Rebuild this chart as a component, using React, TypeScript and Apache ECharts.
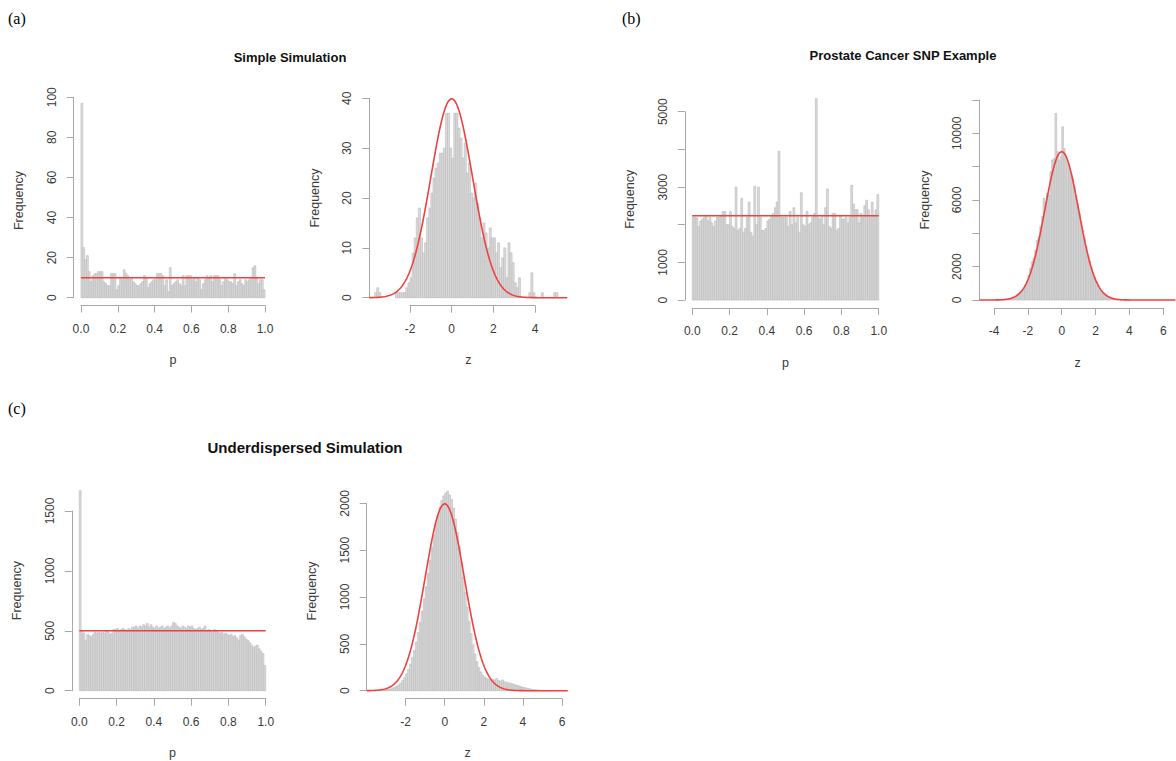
import React, { useEffect, useRef } from "react";
import * as echarts from "echarts";

// ---------- data ----------
// p-value histograms: 100 bins of width 0.01 on [0, 1]
const simpleP = [
  97, 25, 19, 21, 13, 8, 11, 12, 12, 13,
  13, 13, 8, 7, 6, 6, 12, 12, 12, 4,
  6, 10, 9, 14, 12, 11, 9, 10, 8, 7,
  6, 6, 7, 8, 11, 10, 5, 7, 8, 9,
  9, 12, 12, 12, 11, 6, 9, 3, 15, 6,
  7, 8, 9, 7, 6, 11, 6, 11, 11, 11,
  9, 10, 8, 10, 9, 4, 7, 9, 11, 10,
  11, 8, 11, 11, 11, 9, 6, 8, 10, 9,
  8, 8, 7, 12, 6, 8, 9, 7, 6, 9,
  8, 9, 10, 15, 16, 10, 7, 9, 9, 4,
];
const prostateP = [
  2210, 2200, 2180, 1950, 2100, 2150, 2200, 2250, 2100, 2200,
  2050, 1950, 2100, 2200, 2200, 2250, 2350, 2350, 2000, 2000,
  2350, 1950, 1900, 3000, 1850, 1900, 2700, 1800, 1900, 2200,
  2600, 1800, 1700, 3020, 2000, 3000, 2200, 1850, 1850, 1900,
  2100, 2150, 2250, 2300, 2450, 2600, 3950, 2200, 2200, 2200,
  2200, 1950, 2350, 2000, 2450, 2050, 2200, 1800, 2850, 2000,
  1950, 2350, 2000, 2050, 2200, 2300, 5350, 2200, 2150, 2250,
  2000, 2450, 2950, 1950, 1900, 2300, 2300, 1850, 1900, 2250,
  2150, 2150, 2200, 2050, 2200, 3050, 2550, 2400, 2400, 2050,
  2300, 2200, 2500, 2650, 2400, 2200, 2600, 2250, 2400, 2800,
];
const underP = [
  1670, 500, 480, 420, 470, 460, 450, 470, 490, 480,
  490, 480, 490, 480, 500, 490, 470, 480, 510, 510,
  520, 500, 510, 520, 510, 500, 520, 510, 530, 530,
  540, 520, 540, 530, 550, 540, 560, 530, 550, 530,
  520, 540, 520, 530, 540, 520, 530, 540, 520, 540,
  570, 560, 540, 530, 520, 540, 530, 520, 540, 530,
  540, 520, 510, 520, 530, 510, 520, 540, 500, 510,
  500, 490, 510, 500, 490, 480, 490, 470, 480, 470,
  460, 470, 450, 460, 440, 420, 460, 470, 450, 430,
  420, 400, 380, 360, 370, 380, 350, 330, 310, 210,
];
// expected uniform count per p bin (red line)
const pRefLevels = [10, 2240, 500];

// z histograms: bins of width 0.1, first bin starts at the given break
const simpleZStart = -3.7;
const simpleZ = [
  1, 2, 1, 0, 0, 0, 0, 0, 0, 0,
  1, 1, 1, 1, 1, 2, 3, 4, 9, 12,
  16, 18, 12, 9, 11, 16, 18, 21, 24, 26,
  27, 29, 29, 30, 37, 37, 30, 28, 37, 37,
  34, 32, 28, 31, 25, 27, 21, 20, 23, 19,
  16, 12, 15, 13, 10, 14, 12, 12, 9, 11,
  6, 8, 10, 4, 11, 9, 7, 3, 2, 4,
  0, 0, 0, 0, 1, 5, 1, 0, 0, 0,
  1, 0, 0, 0, 0, 0, 1, 1,
];
const prostateZStart = -4.0;
const prostateZ = [
  5, 8, 10, 15, 20, 28, 40, 55, 75, 100,
  135, 180, 235, 300, 380, 480, 600, 740, 900, 1100,
  1500, 1900, 2300, 2500, 3000, 3600, 3800, 4400, 5000, 6100,
  5900, 6400, 6300, 7700, 8400, 8500, 11200, 8900, 8400, 8600,
  10400, 9100, 8600, 8200, 7900, 7600, 7300, 6800, 6300, 5800,
  5200, 4700, 4200, 3700, 3200, 2750, 2350, 2000, 1650, 1350,
  1100, 900, 720, 570, 440, 340, 260, 200, 150, 110,
  80, 60, 45, 32, 22, 15, 10, 7, 5, 3, 2,
];
const underZStart = -3.5;
const underZ = [
  2, 3, 4, 6, 8, 11, 15, 20, 27, 36,
  48, 63, 82, 108, 140, 180, 228, 285, 352, 430,
  520, 620, 730, 850, 980, 1110, 1250, 1390, 1530, 1660,
  1780, 1870, 1960, 2030, 2080, 2110, 2130, 2090, 2040, 1950,
  1830, 1690, 1540, 1380, 1210, 1050, 890, 740, 610, 490,
  390, 310, 245, 200, 165, 145, 130, 120, 115, 120,
  115, 130, 110, 100, 115, 95, 90, 85, 80, 75,
  68, 60, 55, 45, 40, 35, 30, 25, 20, 16,
  12, 10, 8, 6, 5, 4, 3, 2, 1, 1,
];
// normal reference curve: count scale (N * bin width), mean, sd
const curveScale = [100, 22300, 5000];
const curveMean = [0, 0, 0];
const curveSd = [1, 1, 1];

// tick specs [first, last, step] and labels that R actually printed
const pTicks = [0, 1, 0.2];
const simpleZTicks = [-2, 4, 2];
const prostateZTicks = [-4, 6, 2];
const underZTicks = [-2, 6, 2];
const simplePYTicks = [0, 100, 20];
const simpleZYTicks = [0, 40, 10];
const prostatePYTicks = [0, 5000, 1000];
const prostatePYLabels = [0, 1000, 3000, 5000];
const prostateZYTicks = [0, 12000, 2000];
const prostateZYLabels = [0, 2000, 6000, 10000];
const underPYTicks = [0, 1500, 500];
const underZYTicks = [0, 2000, 500];

const titles = ["Simple Simulation", "Prostate Cancer SNP Example", "Underdispersed Simulation"];
const panelTags = ["(a)", "(b)", "(c)"];

// ---------- layout ----------
type Panel = {
  left: number; top: number; width: number; height: number;
  xr: number[]; yr: number[];
  xt: number[]; yt: number[]; yLabels?: number[];
  hist: number[]; start: number; bw: number;
  kind: "p" | "z"; ref?: number; curve?: number;
};

const panels: Panel[] = [
  { left: 73.6, top: 95.5, width: 198.8, height: 210, xr: [-0.04, 1.04], yr: [-3.88, 100.88],
    xt: pTicks, yt: simplePYTicks, hist: simpleP, start: 0, bw: 0.01, kind: "p", ref: pRefLevels[0] },
  { left: 369.4, top: 90.3, width: 197.9, height: 215.4, xr: [-3.95, 5.55], yr: [-1.6, 41.6],
    xt: simpleZTicks, yt: simpleZYTicks, hist: simpleZ, start: simpleZStart, bw: 0.1, kind: "z", curve: 0 },
  { left: 684.8, top: 90.5, width: 201.4, height: 217.6, xr: [-0.04, 1.04], yr: [-214, 5564],
    xt: pTicks, yt: prostatePYTicks, yLabels: prostatePYLabels, hist: prostateP, start: 0, bw: 0.01, kind: "p", ref: pRefLevels[1] },
  { left: 979.3, top: 92, width: 196.7, height: 216, xr: [-4.87, 6.75], yr: [-480, 12480],
    xt: prostateZTicks, yt: prostateZYTicks, yLabels: prostateZYLabels, hist: prostateZ, start: prostateZStart, bw: 0.1, kind: "z", curve: 1 },
  { left: 71.8, top: 482.6, width: 201.4, height: 216.1, xr: [-0.04, 1.04], yr: [-66.8, 1736.8],
    xt: pTicks, yt: underPYTicks, hist: underP, start: 0, bw: 0.01, kind: "p", ref: pRefLevels[2] },
  { left: 366.7, top: 483.2, width: 201.6, height: 215.5, xr: [-3.99, 6.32], yr: [-85.2, 2215],
    xt: underZTicks, yt: underZYTicks, hist: underZ, start: underZStart, bw: 0.1, kind: "z", curve: 2 },
];

const FONT = "'Liberation Sans', Arial, Helvetica, sans-serif";
const AXIS_COLOR = "#a8a8a8";
const LABEL_COLOR = "#3a3a3a";
const BAR_FILL = "#dadada";
const BAR_STROKE = "#bababa";
const RED = "#f04040";

function dnorm(x: number, m: number, s: number) {
  const u = (x - m) / s;
  return Math.exp(-0.5 * u * u) / (s * Math.sqrt(2 * Math.PI));
}

function buildOption() {
  const grid: any[] = [];
  const xAxis: any[] = [];
  const yAxis: any[] = [];
  const series: any[] = [];

  panels.forEach((P) => {
    const px = (x: number) => P.left + ((x - P.xr[0]) / (P.xr[1] - P.xr[0])) * P.width;
    const py = (y: number) => P.top + ((P.yr[1] - y) / (P.yr[1] - P.yr[0])) * P.height;
    const gMain = grid.length;
    grid.push({ left: P.left, top: P.top, width: P.width, height: P.height, containLabel: false });
    const axLeft = px(P.xt[0]);
    const axTop = py(P.yt[1]);
    grid.push({
      left: axLeft, top: axTop,
      width: px(P.xt[1]) - axLeft, height: py(P.yt[0]) - axTop, containLabel: false,
    });
    const nameStyle = { fontFamily: FONT, fontSize: 12.5, color: LABEL_COLOR };
    xAxis.push({
      gridIndex: gMain, type: "value", min: P.xr[0], max: P.xr[1],
      axisLine: { show: false }, axisTick: { show: false }, axisLabel: { show: false }, splitLine: { show: false },
      name: P.kind, nameLocation: "middle", nameGap: 48, nameTextStyle: nameStyle,
    });
    yAxis.push({
      gridIndex: gMain, type: "value", min: P.yr[0], max: P.yr[1],
      axisLine: { show: false }, axisTick: { show: false }, axisLabel: { show: false }, splitLine: { show: false },
      name: "Frequency", nameLocation: "middle", nameGap: 48, nameTextStyle: nameStyle,
    });
    const xOffset = (P.height * (P.yt[0] - P.yr[0])) / (P.yr[1] - P.yr[0]);
    const yOffset = (P.width * (P.xt[0] - P.xr[0])) / (P.xr[1] - P.xr[0]);
    const lineStyle = { color: AXIS_COLOR, width: 1 };
    xAxis.push({
      gridIndex: gMain + 1, type: "value", min: P.xt[0], max: P.xt[1], interval: P.xt[2],
      position: "bottom", offset: xOffset,
      axisLine: { show: true, onZero: false, lineStyle }, axisTick: { show: true, length: 7, lineStyle },
      splitLine: { show: false },
      axisLabel: {
        show: true, margin: 17, fontFamily: FONT, fontSize: 12, color: LABEL_COLOR,
        showMinLabel: true, showMaxLabel: true,
        formatter: (v: number) => (P.kind === "p" ? v.toFixed(1) : String(Math.round(v))),
      },
    });
    yAxis.push({
      gridIndex: gMain + 1, type: "value", min: P.yt[0], max: P.yt[1], interval: P.yt[2],
      position: "left", offset: yOffset,
      axisLine: { show: true, onZero: false, lineStyle }, axisTick: { show: true, length: 7, lineStyle },
      splitLine: { show: false },
      axisLabel: {
        show: true, margin: 16, rotate: 90, fontFamily: FONT, fontSize: 12, color: LABEL_COLOR,
        showMinLabel: true, showMaxLabel: true,
        formatter: (v: number) => {
          if (P.yLabels && !P.yLabels.some((l) => Math.abs(l - v) < 1e-6)) return "";
          return String(Math.round(v));
        },
      },
    });

    const bars = P.hist.map((c, i) => [P.start + i * P.bw, P.start + (i + 1) * P.bw, c]);
    series.push({
      type: "custom", xAxisIndex: gMain, yAxisIndex: gMain, silent: true,
      encode: { x: [0, 1], y: 2 },
      data: bars,
      renderItem: (_params: any, api: any) => {
        const c = api.value(2);
        if (!c) return null;
        const a = api.coord([api.value(0), c]);
        const b = api.coord([api.value(1), 0]);
        return {
          type: "rect",
          shape: { x: a[0], y: a[1], width: b[0] - a[0], height: b[1] - a[1] },
          style: { fill: BAR_FILL, stroke: BAR_STROKE, lineWidth: 0.6 },
        };
      },
      z: 2,
    });

    let lineData: number[][];
    if (P.kind === "p") {
      lineData = [[0, P.ref as number], [1, P.ref as number]];
    } else {
      const ci = P.curve as number;
      lineData = [];
      const n = 400;
      for (let i = 0; i <= n; i++) {
        const x = P.xr[0] + ((P.xr[1] - P.xr[0]) * i) / n;
        lineData.push([x, curveScale[ci] * dnorm(x, curveMean[ci], curveSd[ci])]);
      }
    }
    series.push({
      type: "line", xAxisIndex: gMain, yAxisIndex: gMain, silent: true,
      data: lineData, symbol: "none", showSymbol: false, smooth: false,
      lineStyle: { color: RED, width: 1.6 }, z: 3,
    });
  });

  const titleStyle = { fontFamily: FONT, fontSize: 13, fontWeight: "bold" as const, color: "#111" };
  const tagStyle = { fontFamily: "'Liberation Serif', 'Times New Roman', serif", fontSize: 16, fontWeight: "normal" as const, color: "#000" };
  const title = [
    { text: titles[0], left: 290, top: 51, textAlign: "center", padding: 0, textStyle: titleStyle },
    { text: titles[1], left: 903, top: 49, textAlign: "center", padding: 0, textStyle: titleStyle },
    { text: titles[2], left: 305, top: 440, textAlign: "center", padding: 0, textStyle: { ...titleStyle, fontSize: 15 } },
    { text: panelTags[0], left: 8, top: 10, padding: 0, textStyle: tagStyle },
    { text: panelTags[1], left: 622, top: 10, padding: 0, textStyle: tagStyle },
    { text: panelTags[2], left: 8, top: 400, padding: 0, textStyle: tagStyle },
  ];

  return { animation: false, backgroundColor: "#ffffff", title, grid, xAxis, yAxis, series };
}

export default function App() {
  const ref = useRef<HTMLDivElement>(null);
  useEffect(() => {
    document.body.style.margin = "0";
    const chart = echarts.init(ref.current as HTMLDivElement, undefined, { renderer: "svg" });
    chart.setOption(buildOption() as any);
    return () => chart.dispose();
  }, []);
  return <div ref={ref} style={{ position: "fixed", left: 0, top: 0, width: 1176, height: 761 }} />;
}
